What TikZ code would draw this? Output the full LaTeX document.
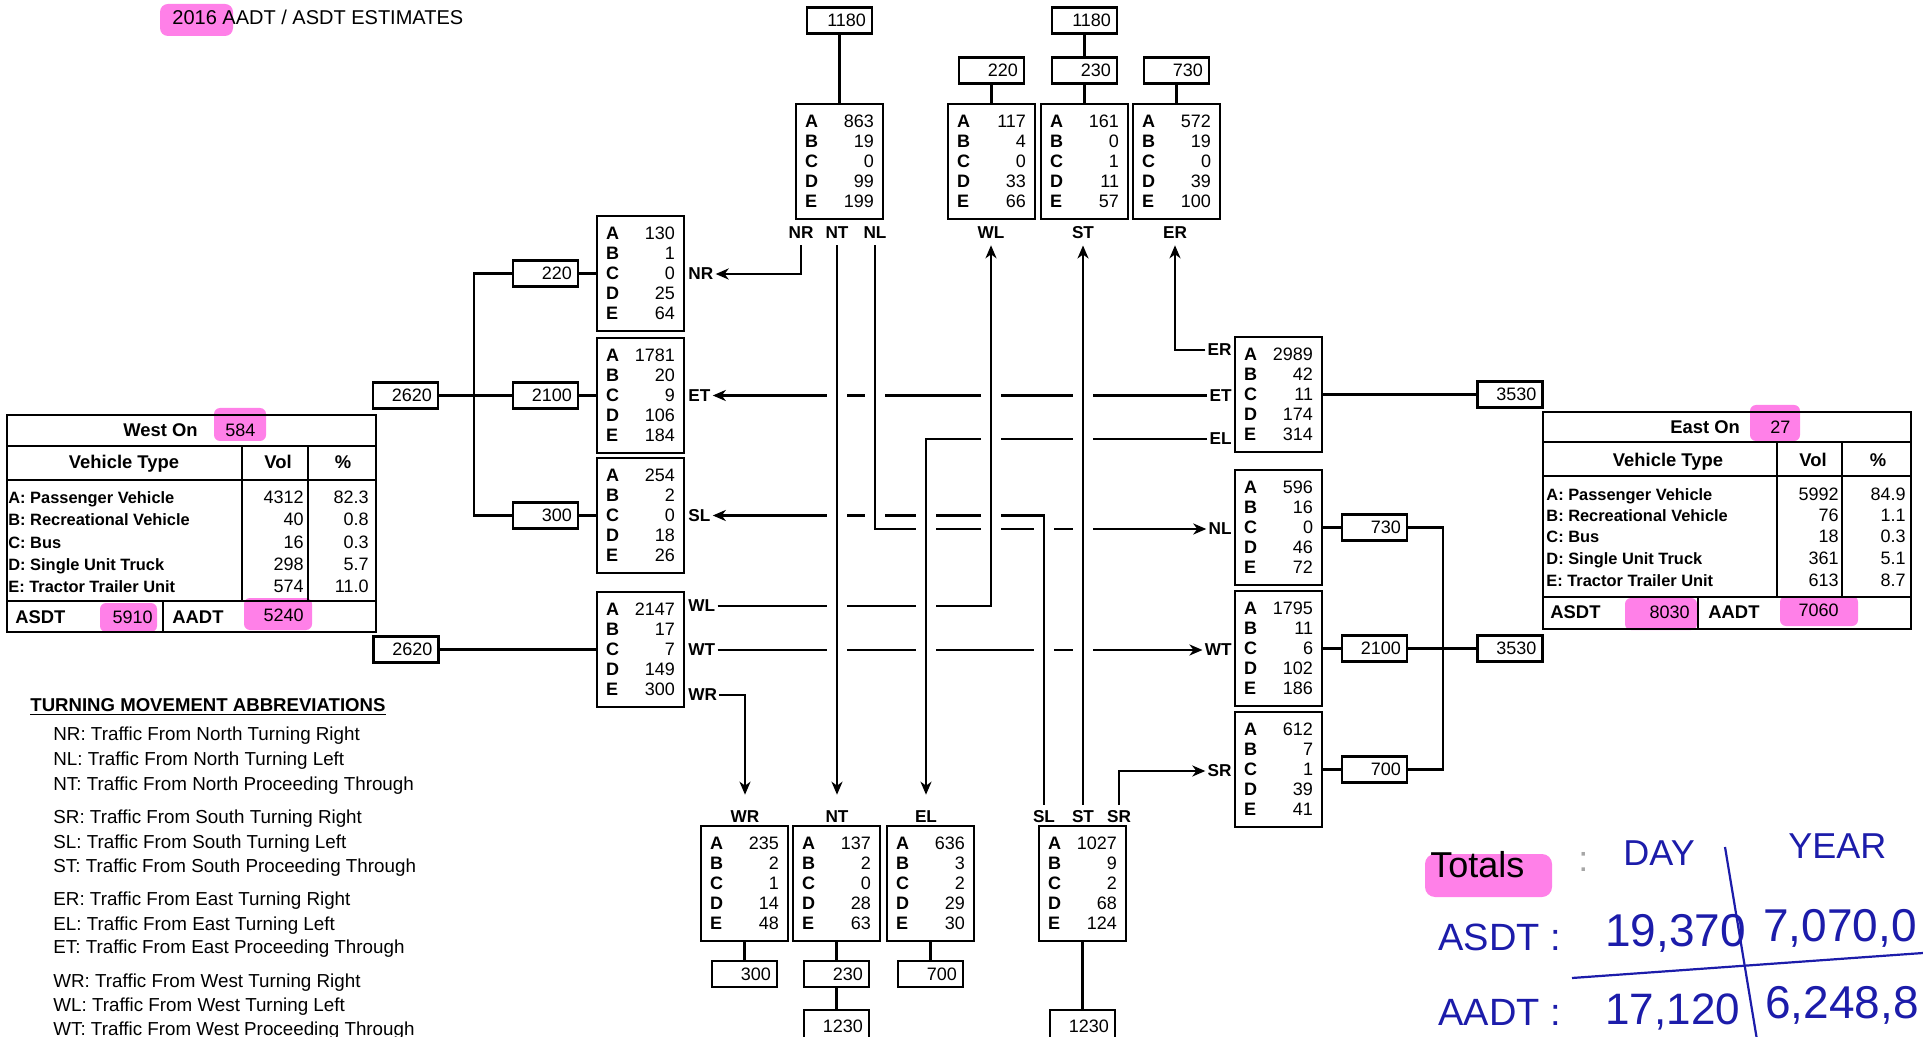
\documentclass[tikz,border=0pt]{standalone}
\usepackage{fontspec}
\setmainfont{Liberation Sans}
\usetikzlibrary{arrows.meta}
\definecolor{hl}{RGB}{255,128,232}
\definecolor{pen}{RGB}{28,28,170}
\tikzset{
 dboxs/.style={draw, line width=1.1pt, inner xsep=4.5pt, inner ysep=0pt, minimum width=43.5pt, minimum height=57.5pt, text width=34.5pt, font=\fontsize{9}{10}\selectfont},
 nbox/.style={draw, line width=1.1pt, inner xsep=3pt, inner ysep=0pt, minimum height=13pt, text width=26.5pt, align=right, font=\fontsize{9}{10}\selectfont},
 mlab/.style={font=\bfseries\fontsize{8.6}{10}\selectfont, inner sep=1pt},
 tlab/.style={mlab, inner xsep=1pt, inner ysep=3pt},
 turn/.style={line width=1.2pt},
 arr/.style={-{Stealth[length=6.5pt,width=5.5pt,inset=2pt]}},
 gapw/.style={draw=white, line width=10pt},
 refill/.style={draw=black, line width=1.2pt},
 conn/.style={line width=1.1pt},
 tlbl/.style={font=\bfseries\fontsize{8.2}{10}\selectfont, anchor=mid west},
 tnum/.style={font=\fontsize{9}{10}\selectfont, anchor=mid east},
 thead/.style={font=\bfseries\fontsize{9.2}{10}\selectfont, anchor=mid},
 abbr/.style={font=\fontsize{9.4}{11}\selectfont, anchor=mid west},
 hand/.style={text=pen, anchor=mid west},
 tline/.style={line width=1.1pt},
}
\newcommand\dbx[8]{\node[dboxs] (#1) at (#2+43.5,#3+57.5) {\noindent\textbf{A}\hfill #4\\\textbf{B}\hfill #5\\\textbf{C}\hfill #6\\\textbf{D}\hfill #7\\\textbf{E}\hfill #8};}
\begin{document}
\begin{tikzpicture}[x=0.5pt,y=-0.5pt, every node/.style={inner sep=0pt}]
\fill[white] (0,0) rectangle (1923,1037);
\useasboundingbox (0,0) rectangle (1923,1037);

% ---------- highlights ----------
\fill[hl, rounded corners=4pt] (160,4) rectangle (233,36);
\fill[hl, rounded corners=3pt] (214,408) rectangle (266,441);
\fill[hl, rounded corners=3pt] (100,603) rectangle (157,632);
\fill[hl, rounded corners=3pt] (244,598) rectangle (312,630);
\fill[hl, rounded corners=3pt] (1750,405) rectangle (1800,441);
\fill[hl, rounded corners=3pt] (1625,598) rectangle (1697,630);
\fill[hl, rounded corners=3pt] (1780,596) rectangle (1858,626);
\fill[hl, rounded corners=5pt] (1425,854) rectangle (1552,897);

% ---------- title ----------
\node[anchor=mid west, font=\fontsize{10}{12}\selectfont] (title) at (172,19) {2016 AADT / ASDT ESTIMATES};

% ---------- data boxes ----------
\dbx{Nin}{796}{104}{863}{19}{0}{99}{199}
\dbx{WLb}{948}{104}{117}{4}{0}{33}{66}
\dbx{STb}{1041}{104}{161}{0}{1}{11}{57}
\dbx{ERb}{1133}{104}{572}{19}{0}{39}{100}
\dbx{NRb}{597}{216}{130}{1}{0}{25}{64}
\dbx{ETb}{597}{338}{1781}{20}{9}{106}{184}
\dbx{SLb}{597}{458}{254}{2}{0}{18}{26}
\dbx{Win}{597}{592}{2147}{17}{7}{149}{300}
\dbx{Ein}{1235}{337}{2989}{42}{11}{174}{314}
\dbx{NLb}{1235}{470}{596}{16}{0}{46}{72}
\dbx{WTb}{1235}{591}{1795}{11}{6}{102}{186}
\dbx{SRb}{1235}{712}{612}{7}{1}{39}{41}
\dbx{WRb}{701}{826}{235}{2}{1}{14}{48}
\dbx{NTb}{793}{826}{137}{2}{0}{28}{63}
\dbx{ELb}{887}{826}{636}{3}{2}{29}{30}
\dbx{Sin}{1039}{826}{1027}{9}{2}{68}{124}

% ---------- number boxes ----------
\node[nbox] (n1180a) at (839.5,20.5) {1180};
\node[nbox] (n220t) at (991.5,70.5) {220};
\node[nbox] (n1180b) at (1084.5,20.5) {1180};
\node[nbox] (n230t) at (1084.5,70.5) {230};
\node[nbox] (n730t) at (1176.5,70.5) {730};
\node[nbox] (n2620a) at (405.5,395.5) {2620};
\node[nbox] (n220l) at (545.5,273.5) {220};
\node[nbox] (n2100l) at (545.5,395.5) {2100};
\node[nbox] (n300l) at (545.5,515.5) {300};
\node[nbox] (n2620b) at (406,649.5) {2620};
\node[nbox] (n3530a) at (1510,394.5) {3530};
\node[nbox] (n730r) at (1374.5,527.5) {730};
\node[nbox] (n2100r) at (1374.5,648.5) {2100};
\node[nbox] (n700r) at (1374.5,769.5) {700};
\node[nbox] (n3530b) at (1510,648.5) {3530};
\node[nbox] (n300b) at (744.5,974) {300};
\node[nbox] (n230b) at (836.5,974) {230};
\node[nbox] (n700b) at (930.5,974) {700};
\node[nbox, minimum height=16pt] (n1230a) at (836.5,1026) {1230};
\node[nbox, minimum height=16pt] (n1230b) at (1082.5,1026) {1230};

% ---------- connectors between boxes ----------
\draw[conn] (n1180a) -- (Nin);
\draw[conn] (n220t) -- (WLb);
\draw[conn] (n1180b) -- (n230t);
\draw[conn] (n230t) -- (STb);
\draw[conn] (n730t) -- (ERb);
\coordinate (busL) at (474,395.5);
\draw[conn] (n220l.west) -| (busL) |- (n300l.west);
\draw[conn] (n2620a) -- (n2100l);
\draw[conn] (n220l) -- (NRb);
\draw[conn] (n2100l) -- (ETb);
\draw[conn] (n300l) -- (SLb);
\draw[conn] (n2620b) -- (Win);
\draw[conn] (Ein) -- (n3530a);
\draw[conn] (NLb) -- (n730r);
\draw[conn] (WTb) -- (n2100r);
\draw[conn] (SRb) -- (n700r);
\coordinate (busR) at (1443,648.5);
\draw[conn] (n730r.east) -| (busR) |- (n700r.east);
\draw[conn] (n2100r) -- (n3530b);
\draw[conn] (WRb) -- (n300b);
\draw[conn] (NTb) -- (n230b);
\draw[conn] (n230b) -- (n1230a);
\draw[conn] (ELb) -- (n700b);
\draw[conn] (Sin) -- (n1230b);

% ---------- movement labels ----------
\node[tlab] (tNR) at (801,233) {NR};
\node[tlab] (tNT) at (837,233) {NT};
\node[tlab] (tNL) at (875,233) {NL};
\node[tlab] (tWL) at (991,233) {WL};
\node[tlab] (tST) at (1083,233) {ST};
\node[tlab] (tER) at (1175,233) {ER};
\node[mlab, anchor=west] (lNR) at (686,274) {NR};
\node[mlab, anchor=west] (lET) at (686,395.5) {ET};
\node[mlab, anchor=west] (lSL) at (686,515.5) {SL};
\node[mlab, anchor=west] (lWL) at (686,606) {WL};
\node[mlab, anchor=west] (lWT) at (686,650) {WT};
\node[mlab, anchor=west] (lWR) at (686,695) {WR};
\node[mlab, anchor=east] (rER) at (1234,350) {ER};
\node[mlab, anchor=east] (rET) at (1234,395.5) {ET};
\node[mlab, anchor=east] (rEL) at (1234,439) {EL};
\node[mlab, anchor=east] (rNL) at (1234,529) {NL};
\node[mlab, anchor=east] (rWT) at (1234,650) {WT};
\node[mlab, anchor=east] (rSR) at (1234,771) {SR};
\node[tlab] (bWR) at (745,817) {WR};
\node[tlab] (bNT) at (837,817) {NT};
\node[tlab] (bEL) at (926,817) {EL};
\node[tlab] (bSL) at (1044,817) {SL};
\node[tlab] (bST) at (1083,817) {ST};
\node[tlab] (bSR) at (1119,817) {SR};

% ---------- movement lines (stage A) ----------
\draw[turn,arr] (tNR.south) |- (lNR.east);
\draw[turn,arr,shorten >=5pt] (tNT.south) -- (bNT.north);
\draw[turn,arr] (tNL.south) |- (rNL.west);
\draw[turn,arr] (lWL.east) -| (tWL.south);
\draw[turn,arr] (lWT.east) -- (rWT.west);
\draw[turn,arr,shorten >=5pt] (lWR.east) -| (bWR.north);
\draw[turn,arr] (rER.west) -| (tER.south);
\draw[turn,arr] (rET.west) -- (lET.east);
\draw[turn,arr,shorten >=5pt] (rEL.west) -| (bEL.north);
\draw[turn,arr] (bSL.north) |- (lSL.east);
\draw[turn,arr] (bST.north) -- (tST.south);
\draw[turn,arr] (bSR.north) |- (rSR.west);

% ---------- crossing gaps (stage B) ----------
\draw[gapw, shorten <=2pt, shorten >=30pt] (tNT.south) -- (bNT.north);
\draw[refill, shorten <=1pt, shorten >=29pt] (tNT.south) -- (bNT.north);
\draw[gapw, shorten <=2pt, shorten >=2pt] (tNL.south) -- (tNL.south |- rNL.west);
\draw[refill, shorten <=1pt, shorten >=1pt] (tNL.south) -- (tNL.south |- rNL.west);
\draw[gapw, shorten <=30pt, shorten >=2pt] (tWL.south) -- (tWL.south |- lWL.east);
\draw[refill, shorten <=29pt, shorten >=1pt] (tWL.south) -- (tWL.south |- lWL.east);
\draw[gapw, shorten <=2pt, shorten >=30pt] (bST.north) -- (tST.south);
\draw[refill, shorten <=1pt, shorten >=29pt] (bST.north) -- (tST.south);
\draw[gapw, shorten <=30pt, shorten >=2pt] (bEL.north) -- (bEL.north |- rEL.west);
\draw[refill, shorten <=29pt, shorten >=1pt] (bEL.north) -- (bEL.north |- rEL.west);
\draw[gapw, shorten <=2pt, shorten >=1.6pt] (bSL.north) -- (bSL.north |- lSL.east);
\draw[refill, shorten <=1pt, shorten >=1pt] (bSL.north) -- (bSL.north |- lSL.east);

% ---------- West On table ----------
\draw[tline] (7,415) rectangle (376,632);
\draw[tline] (7,446) -- (376,446) (7,480) -- (376,480) (7,601) -- (376,601);
\draw[tline] (242,446) -- (242,601) (308,446) -- (308,601) (163,601) -- (163,632);
\node[thead, anchor=mid west] (wOn) at (123,431) {West On};
\node[tnum, anchor=mid west] (wOnv) at (225,431) {584};
\node[thead] (wVT) at (124,463) {Vehicle Type};
\node[thead] (wVol) at (278,463) {Vol};
\node[thead] (wPc) at (343,463) {\%};
\node[tlbl] (wA) at (8,498) {A: Passenger Vehicle};
\node[tlbl] (wB) at (8,520) {B: Recreational Vehicle};
\node[tlbl] (wC) at (8,543) {C: Bus};
\node[tlbl] (wD) at (8,565) {D: Single Unit Truck};
\node[tlbl] (wE) at (8,587) {E: Tractor Trailer Unit};
\node[tnum] (wA1) at (304,498) {4312};
\node[tnum] (wB1) at (304,520) {40};
\node[tnum] (wC1) at (304,543) {16};
\node[tnum] (wD1) at (304,565) {298};
\node[tnum] (wE1) at (304,587) {574};
\node[tnum] (wA2) at (369,498) {82.3};
\node[tnum] (wB2) at (369,520) {0.8};
\node[tnum] (wC2) at (369,543) {0.3};
\node[tnum] (wD2) at (369,565) {5.7};
\node[tnum] (wE2) at (369,587) {11.0};
\node[thead, anchor=mid west] (wAS) at (15,618) {ASDT};
\node[tnum] (wASv) at (153,618) {5910};
\node[thead, anchor=mid west] (wAA) at (172,618) {AADT};
\node[tnum] (wAAv) at (304,616) {5240};

% ---------- East On table ----------
\draw[tline] (1543,412) rectangle (1911,629);
\draw[tline] (1543,442) -- (1911,442) (1543,476) -- (1911,476) (1543,597) -- (1911,597);
\draw[tline] (1777,442) -- (1777,597) (1842,442) -- (1842,597) (1698,597) -- (1698,629);
\node[thead, anchor=mid west] (eOn) at (1670,428) {East On};
\node[tnum, anchor=mid west] (eOnv) at (1770,428) {27};
\node[thead] (eVT) at (1668,461) {Vehicle Type};
\node[thead] (eVol) at (1813,461) {Vol};
\node[thead] (ePc) at (1878,461) {\%};
\node[tlbl] (eA) at (1546,495) {A: Passenger Vehicle};
\node[tlbl] (eB) at (1546,516) {B: Recreational Vehicle};
\node[tlbl] (eC) at (1546,537) {C: Bus};
\node[tlbl] (eD) at (1546,559) {D: Single Unit Truck};
\node[tlbl] (eE) at (1546,581) {E: Tractor Trailer Unit};
\node[tnum] (eA1) at (1839,495) {5992};
\node[tnum] (eB1) at (1839,516) {76};
\node[tnum] (eC1) at (1839,537) {18};
\node[tnum] (eD1) at (1839,559) {361};
\node[tnum] (eE1) at (1839,581) {613};
\node[tnum] (eA2) at (1906,495) {84.9};
\node[tnum] (eB2) at (1906,516) {1.1};
\node[tnum] (eC2) at (1906,537) {0.3};
\node[tnum] (eD2) at (1906,559) {5.1};
\node[tnum] (eE2) at (1906,581) {8.7};
\node[thead, anchor=mid west] (eAS) at (1550,613) {ASDT};
\node[tnum] (eASv) at (1690,613) {8030};
\node[thead, anchor=mid west] (eAA) at (1708,613) {AADT};
\node[tnum] (eAAv) at (1839,611) {7060};

% ---------- abbreviations ----------
\node[anchor=mid west, font=\bfseries\fontsize{9.3}{11}\selectfont] (abh) at (30,706) {\underline{TURNING MOVEMENT ABBREVIATIONS}};
\node[abbr] (ab1) at (53,735) {NR: Traffic From North Turning Right};
\node[abbr] (ab2) at (53,760) {NL: Traffic From North Turning Left};
\node[abbr] (ab3) at (53,785) {NT: Traffic From North Proceeding Through};
\node[abbr] (ab4) at (53,818) {SR: Traffic From South Turning Right};
\node[abbr] (ab5) at (53,843) {SL: Traffic From South Turning Left};
\node[abbr] (ab6) at (53,867) {ST: Traffic From South Proceeding Through};
\node[abbr] (ab7) at (53,900) {ER: Traffic From East Turning Right};
\node[abbr] (ab8) at (53,925) {EL: Traffic From East Turning Left};
\node[abbr] (ab9) at (53,948) {ET: Traffic From East Proceeding Through};
\node[abbr] (ab10) at (53,982) {WR: Traffic From West Turning Right};
\node[abbr] (ab11) at (53,1006) {WL: Traffic From West Turning Left};
\node[abbr] (ab12) at (53,1030) {WT: Traffic From West Proceeding Through};

% ---------- handwritten totals ----------
\draw[pen, line width=1.1pt] (1725,847) -- (1757,1040);
\draw[pen, line width=1.1pt] (1572,978) -- (1923,953);
\node[hand, text=black, font=\fontsize{18}{20}\selectfont] (hTot) at (1430,872) {Totals};
\node[hand, text=black!35, font=\fontsize{18}{20}\selectfont] (hCol) at (1578,866) {:};
\node[hand, font=\fontsize{18}{20}\selectfont] (hDay) at (1623,860) {DAY};
\node[hand, font=\fontsize{18}{20}\selectfont] (hYear) at (1788,853) {YEAR};
\node[hand, font=\fontsize{19}{21}\selectfont] (hAS) at (1438,945) {ASDT :};
\node[hand, font=\fontsize{23}{25}\selectfont] (hAS1) at (1605,941) {19,370};
\node[hand, font=\fontsize{23}{25}\selectfont] (hAS2) at (1763,936) {7,070,0};
\node[hand, font=\fontsize{19}{21}\selectfont] (hAA) at (1438,1020) {AADT :};
\node[hand, font=\fontsize{22}{24}\selectfont] (hAA1) at (1605,1019) {17,120};
\node[hand, font=\fontsize{23}{25}\selectfont] (hAA2) at (1765,1013) {6,248,8};
\end{tikzpicture}
\end{document}
